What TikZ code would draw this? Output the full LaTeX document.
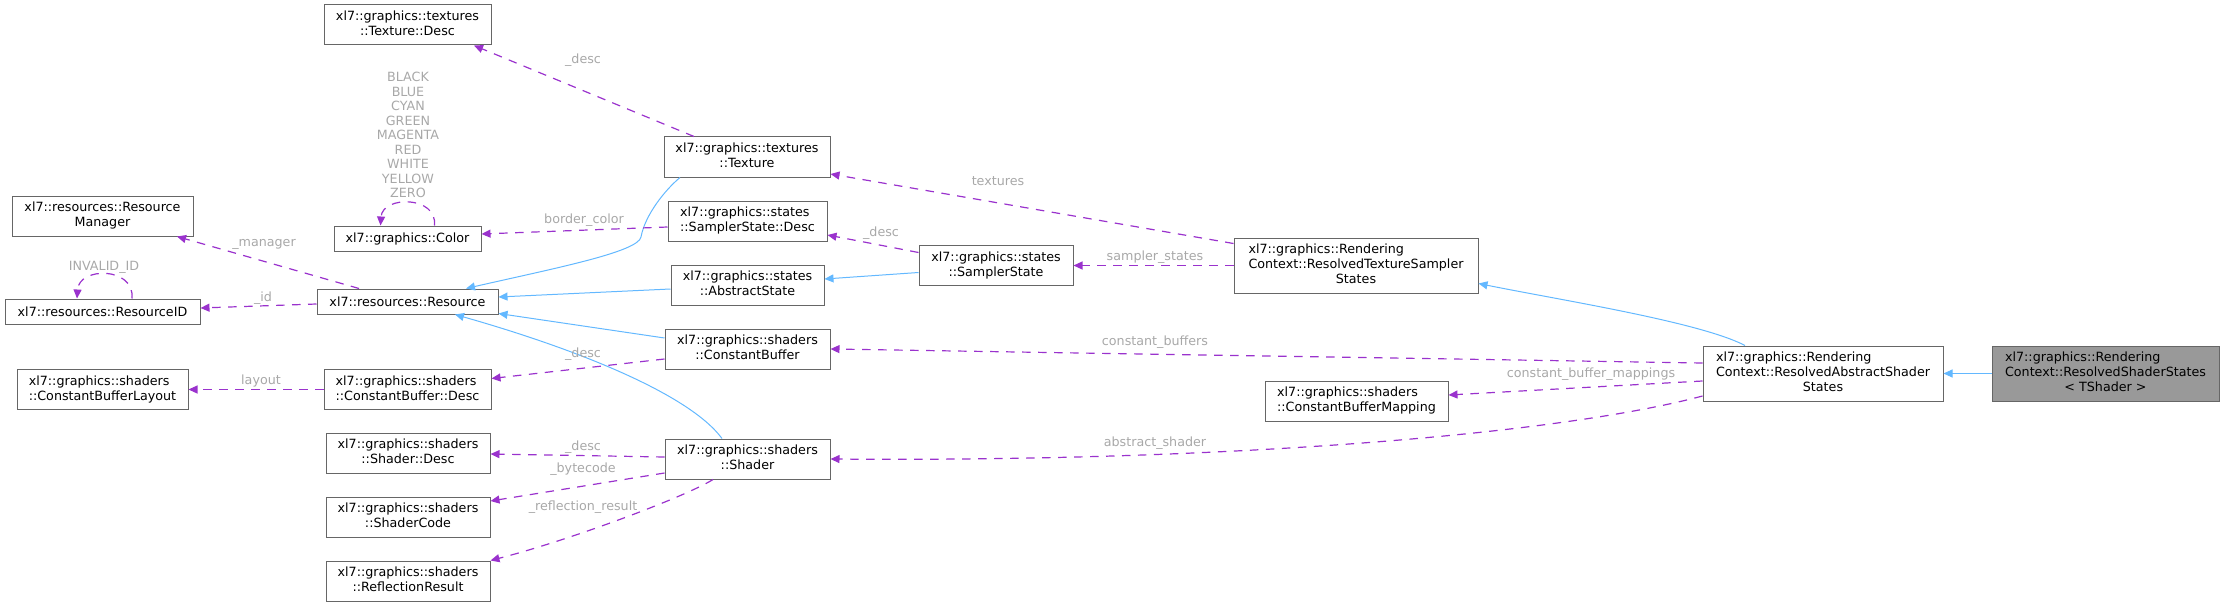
\documentclass[tikz,border=0pt]{standalone}
\usepackage{fontspec}
\setmainfont{DejaVu Sans}
\usetikzlibrary{arrows.meta}

\definecolor{edgeblue}{HTML}{63B8FF}
\definecolor{edgepurple}{HTML}{9A32CD}
\definecolor{labelgray}{HTML}{A8A8A8}
\definecolor{boxgray}{HTML}{666666}
\definecolor{basefill}{HTML}{999999}

% class name: upper lines left, last line centred
\newcommand{\clsname}[2]{\begin{tabular}{@{}l@{}}#1\\\multicolumn{1}{@{}c@{}}{#2}\end{tabular}}

\tikzset{
    cls/.style={draw=boxgray, line width=1pt, fill=white, minimum height=25pt,
        inner xsep=2pt, inner ysep=5pt, font=\fontsize{12.7}{15}\selectfont},
    basecls/.style={cls, fill=basefill},
    inh/.style={draw=edgeblue, line width=1pt, -{Triangle[length=9pt,width=8pt]}},
    usage/.style={draw=edgepurple, line width=1.2pt, dash pattern=on 8.5pt off 7.5pt,
        -{Triangle[length=9pt,width=8pt]}},
    lbl/.style={text=labelgray, inner sep=0pt, font=\fontsize{12.7}{15}\selectfont}
}

\begin{document}
\begin{tikzpicture}[x=1pt, y=-1pt]
    \useasboundingbox (0,0) rectangle (2224,607);

    % Left column
    \node[cls, minimum width=181pt] (resmgr) at (102.5,216) {\clsname{xl7::resources::Resource}{Manager}};
    \node[cls, minimum width=195pt] (resid) at (102.5,311.5) {xl7::resources::ResourceID};
    \node[cls, minimum width=171pt] (cblayout) at (102.5,389.5) {\clsname{xl7::graphics::shaders}{::ConstantBufferLayout}};

    % Second column
    \node[cls, minimum width=167pt] (texdesc) at (407.5,25) {\clsname{xl7::graphics::textures}{::Texture::Desc}};
    \node[cls, minimum width=147pt] (color) at (407.5,238.5) {xl7::graphics::Color};
    \node[cls, minimum width=181pt] (resource) at (407.5,301.5) {xl7::resources::Resource};
    \node[cls, minimum width=167pt] (cbdesc) at (407.5,389.5) {\clsname{xl7::graphics::shaders}{::ConstantBuffer::Desc}};
    \node[cls, minimum width=164pt] (shdesc) at (408,453) {\clsname{xl7::graphics::shaders}{::Shader::Desc}};
    \node[cls, minimum width=164pt] (shcode) at (408,517) {\clsname{xl7::graphics::shaders}{::ShaderCode}};
    \node[cls, minimum width=164pt] (reflres) at (408,581) {\clsname{xl7::graphics::shaders}{::ReflectionResult}};

    % Third column
    \node[cls, minimum width=166pt] (texture) at (747,157) {\clsname{xl7::graphics::textures}{::Texture}};
    \node[cls, minimum width=159pt] (ssdesc) at (747.5,221) {\clsname{xl7::graphics::states}{::SamplerState::Desc}};
    \node[cls, minimum width=153pt] (absstate) at (747.5,285) {\clsname{xl7::graphics::states}{::AbstractState}};
    \node[cls, minimum width=165pt] (cbuffer) at (747.5,349) {\clsname{xl7::graphics::shaders}{::ConstantBuffer}};
    \node[cls, minimum width=165pt] (shader) at (747.5,459) {\clsname{xl7::graphics::shaders}{::Shader}};
    \node[cls, minimum width=154pt] (sstate) at (996,265.5) {\clsname{xl7::graphics::states}{::SamplerState}};

    % Rendering context
    \node[cls, minimum width=244pt] (rtss) at (1356,265.5) {\clsname{xl7::graphics::Rendering\\Context::ResolvedTextureSampler}{States}};
    \node[cls, minimum width=183pt] (cbmap) at (1356.5,401) {\clsname{xl7::graphics::shaders}{::ConstantBufferMapping}};
    \node[cls, minimum width=240pt] (rass) at (1823,373.5) {\clsname{xl7::graphics::Rendering\\Context::ResolvedAbstractShader}{States}};
    \node[basecls, minimum width=227pt] (rss) at (2105.5,373.5) {\clsname{xl7::graphics::Rendering\\Context::ResolvedShaderStates}{< TShader >}};

    % Inheritance
    \draw[inh] (rss) -- (rass);
    \draw[inh] ([xshift=-78pt]rass.north) .. controls (1700,322) and (1560,300) .. ([yshift=-18pt]rtss.east);
    \draw[inh] ([yshift=-7pt]sstate.west) -- ([yshift=6pt]absstate.east);
    \draw[inh] ([yshift=-4pt]absstate.west) -- ([yshift=4.5pt]resource.east);
    \draw[inh] ([yshift=11pt]cbuffer.west) -- ([yshift=1pt]resource.south east);
    \draw[inh] ([xshift=-67pt]texture.south) .. controls (665,190) and (645,215) .. (641,237)
        .. controls (638,252) and (556,268) .. ([xshift=58.5pt]resource.north);
    \draw[inh] ([xshift=-25.5pt]shader.north) .. controls (690,395) and (580,350) .. ([xshift=47.5pt]resource.south);

    % Usage
    \draw[usage] ([xshift=-53pt]texture.north) -- ([xshift=66.5pt]texdesc.south);
    \draw[usage] ([yshift=-6pt]ssdesc.west) -- ([yshift=4.5pt]color.east);
    \draw[usage] ([xshift=27pt]color.north) .. controls +(3,-30) and +(2,-30) .. ([xshift=-27pt]color.north);
    \draw[usage] ([xshift=-48.5pt]resource.north) -- ([xshift=74.5pt]resmgr.south);
    \draw[usage] ([yshift=-2.5pt]resource.west) -- ([yshift=3.5pt]resid.east);
    \draw[usage] ([xshift=29.5pt]resid.north) .. controls +(3,-32) and +(2,-32) .. ([xshift=-25.5pt]resid.north);
    \draw[usage] ([yshift=22pt]rtss.west) -- ([yshift=-17pt]texture.east);
    \draw[usage] (rtss.west) -- (sstate.east);
    \draw[usage] ([yshift=13pt]sstate.west) -- ([yshift=-14pt]ssdesc.east);
    \draw[usage] ([yshift=-10pt]cbuffer.west) -- ([yshift=11pt]cbdesc.east);
    \draw[usage] (cbdesc.west) -- (cblayout.east);
    \draw[usage] ([yshift=2pt]shader.west) -- ([yshift=-1pt]shdesc.east);
    \draw[usage] ([yshift=-14pt]shader.west) -- ([yshift=16pt]shcode.east);
    \draw[usage] ([xshift=-34.5pt]shader.south) .. controls (685,497) and (570,540) .. (reflres.north east);
    \draw[usage] ([yshift=10.5pt]rass.west) -- (cbuffer.east);
    \draw[usage] ([yshift=-7.5pt]rass.west) -- ([yshift=6pt]cbmap.east);
    \draw[usage] ([yshift=-22.5pt]rass.west) .. controls (1560,434) and (1230,462) .. (shader.east);

    % Edge labels
    \node[lbl, align=center, font=\fontsize{12.7}{14.5}\selectfont] (lcolors) at (408,135)
        {BLACK\\BLUE\\CYAN\\GREEN\\MAGENTA\\RED\\WHITE\\YELLOW\\ZERO};
    \node[lbl] (ltexdesc) at (583,60) {\_desc};
    \node[lbl] (lborder) at (584,220) {border\_color};
    \node[lbl] (lmanager) at (264,244) {\_manager};
    \node[lbl] (lid) at (263,298) {\_id};
    \node[lbl] (linvalid) at (104,267) {INVALID\_ID};
    \node[lbl] (ltextures) at (998,181) {textures};
    \node[lbl] (lsampler) at (1155,257) {sampler\_states};
    \node[lbl] (lssdesc) at (881,233) {\_desc};
    \node[lbl] (lcbdesc) at (583,354) {\_desc};
    \node[lbl] (llayout) at (261,381) {layout};
    \node[lbl] (lshdesc) at (583,447) {\_desc};
    \node[lbl] (lbytecode) at (583,469) {\_bytecode};
    \node[lbl] (lreflect) at (583,507) {\_reflection\_result};
    \node[lbl] (lcbuffers) at (1155,342) {constant\_buffers};
    \node[lbl] (lcbmap) at (1591,374) {constant\_buffer\_mappings};
    \node[lbl] (lshader) at (1155,443) {abstract\_shader};
\end{tikzpicture}
\end{document}
